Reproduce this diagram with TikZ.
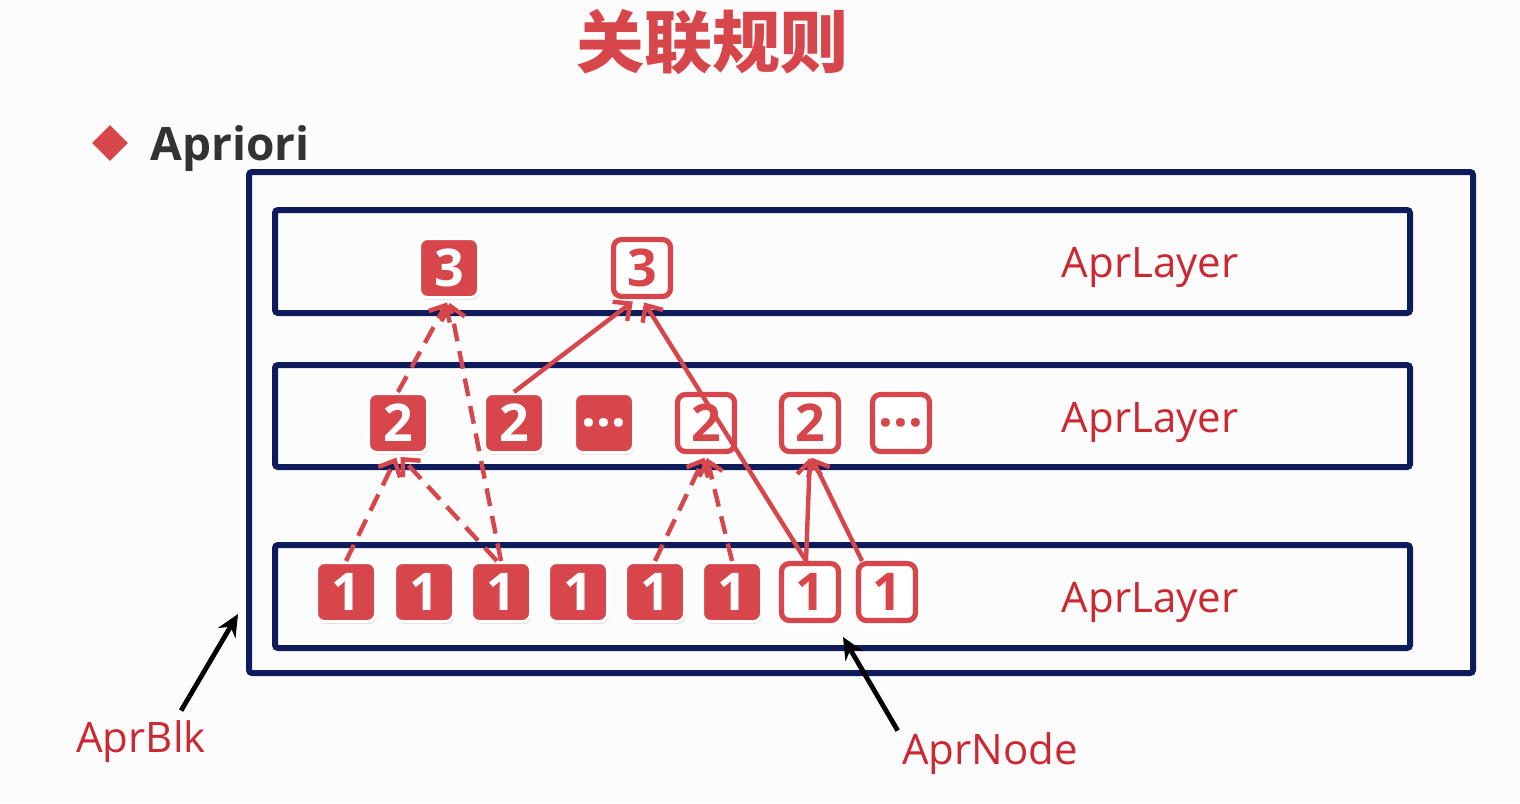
\documentclass[tikz,border=0pt]{standalone}
\usepackage{fontspec}
\setmainfont{Open Sans}
\newfontfamily\cjk{Noto Sans CJK SC}
\usetikzlibrary{arrows.meta,shadows,shapes.geometric,positioning}

\definecolor{aprred}{RGB}{214,70,74}
\definecolor{lblred}{RGB}{204,40,50}
\definecolor{navy}{RGB}{14,28,92}
\definecolor{dgray}{RGB}{51,51,51}

\tikzset{
  layer/.style={draw=navy, line width=3pt, rounded corners=1.5pt},
  fullnode/.style={fill=aprred, draw=white, line width=1.5pt, rounded corners=4pt,
    minimum size=29.5pt, inner sep=0pt, text=white,
    font=\fontsize{26}{26}\selectfont\bfseries,
    drop shadow={opacity=0.22, shadow xshift=0.6pt, shadow yshift=-1.2pt}},
  opennode/.style={fill=white, draw=aprred, line width=2.6pt, rounded corners=4pt,
    minimum size=28.5pt, inner sep=0pt, text=aprred,
    font=\fontsize{26}{26}\selectfont\bfseries,
    preaction={draw=white, line width=5.5pt},
    drop shadow={opacity=0.22, shadow xshift=0.6pt, shadow yshift=-1.2pt}},
  lbl/.style={text=lblred, inner sep=0pt, font=\fontsize{21}{21}\selectfont},
  dasharrow/.style={draw=aprred, line width=2.2pt, dash pattern=on 9pt off 5pt,
    -{Straight Barb[length=6.5pt,width=12pt]}, shorten >=2pt},
  solidarrow/.style={draw=aprred, line width=2.2pt,
    -{Straight Barb[length=6.5pt,width=12pt]}, shorten >=2pt},
  blkarrow/.style={draw=black, line width=2.4pt, -{Stealth[length=11pt,width=10pt]}}
}

\begin{document}
\begin{tikzpicture}[x=0.5pt, y=-0.5pt]
  % Background and page size
  \fill[white!99!black] (0,0) rectangle (1520,803);
  \useasboundingbox (0,0) rectangle (1520,803);

  % Title and heading
  \node[text=aprred, font=\fontsize{34}{34}\selectfont] (title) at (712,42) {\cjk\bfseries 关联规则};
  \node[diamond, fill=aprred, minimum width=18pt, minimum height=18pt, inner sep=0pt] (bullet) at (110,143) {};
  \node[anchor=base west, text=dgray, inner sep=0pt, font=\fontsize{23}{23}\selectfont\bfseries] (heading) at (150,160) {Apriori};

  % Block and layers
  \draw[layer] (249,172) rectangle (1473,673);
  \draw[layer] (275,210) rectangle (1410,313);
  \draw[layer] (275,365) rectangle (1410,467);
  \draw[layer] (275,545) rectangle (1410,648);

  \node[lbl] (layerTop) at (1150,267) {AprLayer};
  \node[lbl] (layerMid) at (1150,422) {AprLayer};
  \node[lbl] (layerBot) at (1150,602) {AprLayer};

  % Layer 1 nodes
  \foreach \i/\x in {1/346,2/424,3/501,4/578,5/655,6/732}
    \node[fullnode] (one\i) at (\x,592) {1};
  \node[opennode] (one7) at (810,592) {1};
  \node[opennode] (one8) at (887,592) {1};

  % Layer 2 nodes
  \node[fullnode] (two1) at (398,423) {2};
  \node[fullnode] (two2) at (514,423) {2};
  \node[fullnode] (two3) at (604,423) {...};
  \node[opennode] (two4) at (706,423) {2};
  \node[opennode] (two5) at (810,423) {2};
  \node[opennode] (two6) at (901,423) {...};

  % Layer 3 nodes
  \node[fullnode] (three1) at (449,268) {3};
  \node[opennode] (three2) at (642,268) {3};

  % Dashed links
  \draw[dasharrow] (one1.north) -- (two1.south);
  \draw[dasharrow] ([shift={(-4,0)}]one3.north) -- (two1.south);
  \draw[dasharrow] (one3.north) -- (three1.south);
  \draw[dasharrow] (two1.north) -- (three1.south);
  \draw[dasharrow] (one5.north) -- (two4.south);
  \draw[dasharrow] (one6.north) -- (two4.south);

  % Solid links
  \draw[solidarrow] (two2.north) -- ([shift={(-6,0)}]three2.south);
  \draw[solidarrow] ([shift={(-4,0)}]one7.north) -- (three2.south);
  \draw[solidarrow] ([shift={(-4,0)}]one7.north) -- (two5.south);
  \draw[solidarrow] ([shift={(-25,0)}]one8.north) -- (two5.south);

  % Callouts
  \node[lbl] (blkLabel) at (141,742) {AprBlk};
  \node[lbl] (nodeLabel) at (990,754) {AprNode};
  \coordinate (blkTip) at (238,614);
  \coordinate (nodeTip) at (843,637);
  \draw[blkarrow] ([shift={(-25,-10)}]blkLabel.north east) -- (blkTip);
  \draw[blkarrow] ([shift={(-4,-2)}]nodeLabel.north west) -- (nodeTip);
\end{tikzpicture}
\end{document}
